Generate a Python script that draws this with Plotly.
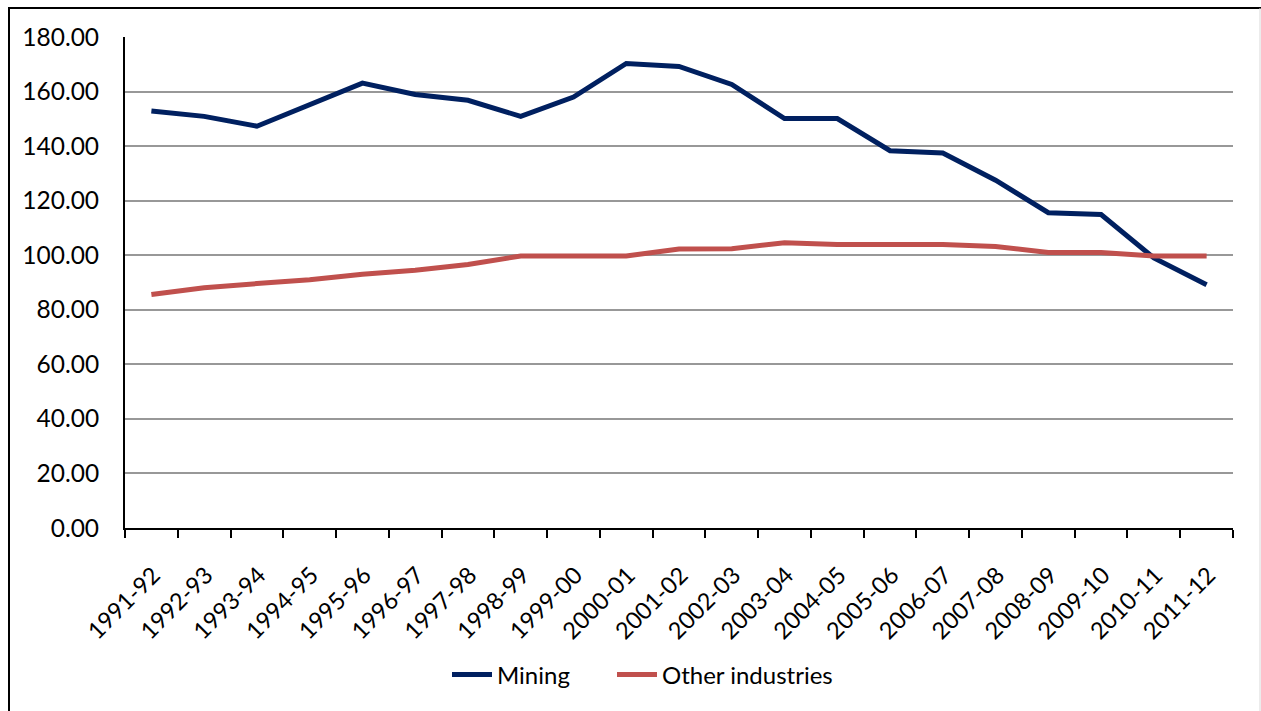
import plotly.graph_objects as go

# Financial years on the category axis
years = [
    "1991-92", "1992-93", "1993-94", "1994-95", "1995-96", "1996-97", "1997-98",
    "1998-99", "1999-00", "2000-01", "2001-02", "2002-03", "2003-04", "2004-05",
    "2005-06", "2006-07", "2007-08", "2008-09", "2009-10", "2010-11", "2011-12",
]

# Index values per series
mining = [
    152.9, 150.9, 147.3, 155.0, 163.1, 158.9, 156.8, 150.9, 158.0, 170.3, 169.2,
    162.6, 150.1, 150.1, 138.3, 137.5, 127.5, 115.6, 114.9, 99.0, 89.2,
]
other_industries = [
    85.6, 88.1, 89.6, 91.0, 93.0, 94.5, 96.6, 99.7, 99.7, 99.7, 102.3,
    102.4, 104.6, 103.9, 103.9, 103.9, 103.2, 101.0, 101.0, 99.7, 99.7,
]

y_ticks = [0, 20, 40, 60, 80, 100, 120, 140, 160, 180]

FONT = "Lato"
W, H = 1261, 711
L, R, T, B = 125, 1233, 37, 528  # plot-area edges in pixels


def px_x(x):
    return (x - L) / (R - L)


def px_y(y):
    return (B - y) / (B - T)


fig = go.Figure()
fig.add_trace(go.Scatter(
    x=years, y=mining, name="Mining", mode="lines",
    line=dict(color="#002060", width=5), legend="legend",
))
fig.add_trace(go.Scatter(
    x=years, y=other_industries, name="Other industries", mode="lines",
    line=dict(color="#C0504D", width=5), legend="legend2",
))

# Chart frame: black on the left and top, faint on the right
fig.add_shape(type="line", xref="paper", yref="paper",
              x0=px_x(9), x1=px_x(9), y0=px_y(8), y1=px_y(740),
              line=dict(color="black", width=2))
fig.add_shape(type="line", xref="paper", yref="paper",
              x0=px_x(8), x1=px_x(1262), y0=px_y(8), y1=px_y(8),
              line=dict(color="black", width=2))
fig.add_shape(type="line", xref="paper", yref="paper",
              x0=px_x(1260), x1=px_x(1260), y0=px_y(8), y1=px_y(740),
              line=dict(color="#d9d9d9", width=1))

legend_style = dict(
    orientation="h", xanchor="left",
    y=px_y(675), yanchor="middle",
    font=dict(family=FONT, size=24, color="black"),
    itemwidth=40, bgcolor="rgba(0,0,0,0)",
)

fig.update_layout(
    width=W, height=H,
    margin=dict(l=L, r=W - R, t=T, b=H - B, pad=0),
    paper_bgcolor="white", plot_bgcolor="white",
    font=dict(family=FONT, size=24, color="black"),
    showlegend=True,
    legend=dict(x=px_x(447), **legend_style),
    legend2=dict(x=px_x(612), **legend_style),
    xaxis=dict(
        type="category", range=[-0.5, len(years) - 0.5],
        tickangle=-45, tickson="boundaries",
        ticks="outside", ticklen=8, tickwidth=1.5, tickcolor="black",
        showline=True, linecolor="black", linewidth=2,
        showgrid=False, zeroline=False,
        ticklabelstandoff=22, ticklabelshift=2,
        tickfont=dict(family=FONT, size=23.5),
    ),
    yaxis=dict(
        range=[0, 180], tickvals=y_ticks, tickformat=".2f",
        showline=True, linecolor="black", linewidth=2,
        showgrid=True, gridcolor="#989898", gridwidth=1.5,
        zeroline=False, ticks="", ticklabelstandoff=19,
        tickfont=dict(family=FONT, size=24.5),
    ),
)

fig.write_html("out.html")
